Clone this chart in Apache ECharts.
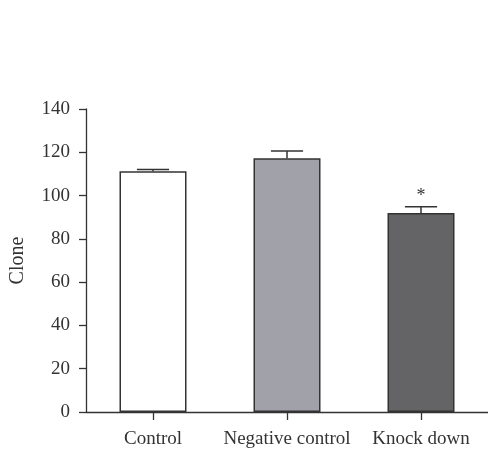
<!DOCTYPE html>
<html>
<head>
<meta charset="utf-8">
<script src="https://cdn.jsdelivr.net/npm/echarts@6/dist/echarts.min.js"></script>
<style>
  html, body { margin: 0; padding: 0; background: #fff; }
  #chart { width: 488px; height: 456px; }
</style>
</head>
<body>
<div id="chart"></div>
<script>
var categories = ['Control', 'Negative control', 'Knock down'];
var cloneMean = [111.2, 117.2, 92.0];
var cloneErr = [0.8, 3.4, 2.8];
var signif = ['', '', '*'];
var barColors = ['#ffffff', '#a1a1a9', '#646466'];
var yTicks = [0, 20, 40, 60, 80, 100, 120, 140];

var FONT = '"Liberation Serif", "DejaVu Serif", serif';

var chart = echarts.init(document.getElementById('chart'));

var errData = categories.map(function (c, i) {
    return [i, cloneMean[i], cloneMean[i] + cloneErr[i], signif[i]];
});

var option = {
    animation: false,
    grid: { left: 84, right: -3, top: 109, bottom: 44, containLabel: false },
    xAxis: {
        type: 'category',
        data: categories,
        axisLine: { lineStyle: { color: '#333', width: 1.3 } },
        axisTick: { show: true, alignWithLabel: true, length: 8, lineStyle: { color: '#333', width: 1.3 } },
        axisLabel: { color: '#333', fontFamily: FONT, fontSize: 19, margin: 18, interval: 0 }
    },
    yAxis: {
        type: 'value',
        min: yTicks[0],
        max: yTicks[yTicks.length - 1],
        interval: 20,
        name: 'Clone',
        nameLocation: 'middle',
        nameGap: 58,
        nameTextStyle: { color: '#333', fontFamily: FONT, fontSize: 20 },
        axisLine: { show: true, lineStyle: { color: '#333', width: 1.3 } },
        axisTick: { show: true, length: 7, lineStyle: { color: '#333', width: 1.3 } },
        axisLabel: { color: '#333', fontFamily: FONT, fontSize: 19, margin: 16 },
        splitLine: { show: false }
    },
    series: [{
        type: 'bar',
        barWidth: '50%',
        data: cloneMean.map(function (v, i) {
            return { value: v, itemStyle: { color: barColors[i] } };
        }),
        itemStyle: { borderColor: '#333', borderWidth: 1.5 }
    }, {
        type: 'custom',
        data: errData,
        z: 3,
        renderItem: function (params, api) {
            var x = api.value(0);
            var lo = api.coord([x, api.value(1)]);
            var hi = api.coord([x, api.value(2)]);
            var halfCap = api.size([1, 0])[0] * 0.12;
            var style = { stroke: '#333', lineWidth: 1.5 };
            var children = [
                { type: 'line', shape: { x1: lo[0], y1: lo[1], x2: hi[0], y2: hi[1] }, style: style },
                { type: 'line', shape: { x1: hi[0] - halfCap, y1: hi[1], x2: hi[0] + halfCap, y2: hi[1] }, style: style }
            ];
            if (api.value(3)) {
                children.push({
                    type: 'text',
                    style: {
                        text: api.value(3), x: hi[0], y: hi[1] - 2,
                        align: 'center', verticalAlign: 'bottom',
                        fill: '#333', font: '18px ' + FONT
                    }
                });
            }
            return { type: 'group', children: children };
        }
    }]
};

chart.setOption(option);
</script>
</body>
</html>
